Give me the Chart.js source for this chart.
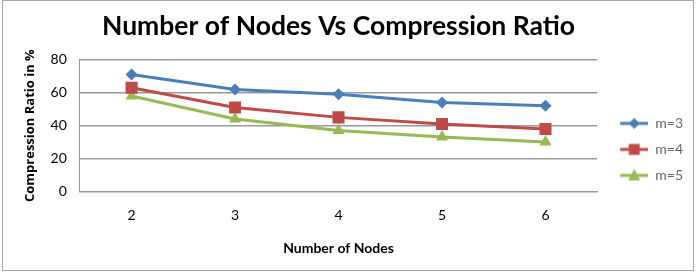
<!DOCTYPE html>
<html lang="en">
  <head>
    <meta charset="UTF-8" />
    <title>Number of Nodes Vs Compression Ratio</title>
    <script src="https://cdn.jsdelivr.net/npm/chart.js"></script>
    <style>
      body { margin: 0; background: #fff; }
      #wrap { width: 697px; height: 273px; }
    </style>
  </head>
  <body>
    <div id="wrap"><canvas id="myChart" width="697" height="273"></canvas></div>

    <script>
      const nodes = ["2", "3", "4", "5", "6"];
      const m3 = [71, 62, 59, 54, 52];
      const m4 = [63, 51, 45, 41, 38];
      const m5 = [58, 44, 37, 33, 30];
      const yTicks = [0, 20, 40, 60, 80];

      const colors = { m3: "#4a7ebb", m4: "#be4b48", m5: "#98b954" };

      // legend symbol: short line with the marker in the middle
      // (left part left blank so the symbol sits a bit away from the plot)
      function legendIcon(color, style) {
        const c = document.createElement("canvas");
        c.width = 39;
        c.height = 14;
        const g = c.getContext("2d");
        g.strokeStyle = color;
        g.fillStyle = color;
        g.lineWidth = 3;
        g.beginPath();
        g.moveTo(11, 7);
        g.lineTo(39, 7);
        g.stroke();
        const cx = 25;
        g.beginPath();
        if (style === "rectRot") {
          g.moveTo(cx, 1.5); g.lineTo(cx + 5.5, 7); g.lineTo(cx, 12.5); g.lineTo(cx - 5.5, 7);
        } else if (style === "rect") {
          g.rect(cx - 5.5, 1.5, 11, 11);
        } else {
          g.moveTo(cx, 0.5); g.lineTo(cx + 6, 12); g.lineTo(cx - 6, 12);
        }
        g.closePath();
        g.fill();
        return c;
      }

      const frame = {
        id: "frame",
        beforeDraw(chart) {
          const ctx = chart.ctx;
          ctx.save();
          ctx.fillStyle = "#fff";
          ctx.fillRect(0, 0, chart.width, chart.height);
          ctx.strokeStyle = "#a6a6a6";
          ctx.lineWidth = 1;
          ctx.strokeRect(2.5, 0.5, chart.width - 6, chart.height - 3);
          ctx.restore();
        },
      };

      const series = [
        { label: "m=3", data: m3, color: colors.m3, style: "rectRot", r: 6 },
        { label: "m=4", data: m4, color: colors.m4, style: "rect", r: 8.5 },
        { label: "m=5", data: m5, color: colors.m5, style: "triangle", r: 7 },
      ];

      const config = {
        type: "line",
        data: {
          labels: nodes,
          datasets: series.map((s) => ({
            label: s.label,
            data: s.data,
            borderColor: s.color,
            backgroundColor: s.color,
            borderWidth: 3,
            pointStyle: s.style,
            pointRadius: s.r,
            pointHoverRadius: s.r,
            pointBorderWidth: 0,
            tension: 0,
          })),
        },
        options: {
          responsive: false,
          animation: false,
          layout: { padding: { left: 18, right: 4, top: 0, bottom: 16 } },
          plugins: {
            title: {
              display: true,
              fullSize: false,
              text: "Number of Nodes Vs Compression Ratio",
              color: "#000",
              font: { family: "Lato", size: 26.5, weight: "bold" },
              padding: { top: 11, bottom: 17 },
            },
            legend: {
              position: "right",
              title: {
                display: true,
                text: " ",
                font: { family: "Lato", size: 14 },
                padding: { top: 12, bottom: 13 },
              },
              labels: {
                usePointStyle: true,
                pointStyleWidth: 39,
                boxHeight: 14,
                color: "#000",
                font: { family: "Lato", size: 14 },
                padding: 12,
                generateLabels: (chart) =>
                  series.map((s, i) => ({
                    text: s.label,
                    pointStyle: legendIcon(s.color, s.style),
                    fillStyle: s.color,
                    strokeStyle: s.color,
                    lineWidth: 0,
                    datasetIndex: i,
                  })),
              },
            },
            tooltip: { enabled: false },
          },
          scales: {
            x: {
              offset: true,
              grid: { display: false, drawTicks: false },
              border: { color: "#999" },
              ticks: { color: "#000", padding: 16, font: { family: "Lato", size: 14 } },
              title: {
                display: true,
                text: "Number of Nodes",
                color: "#000",
                font: { family: "Lato", size: 14, weight: "bold" },
                padding: { top: 0, bottom: 0 },
              },
            },
            y: {
              min: 0,
              max: 80,
              afterBuildTicks: (axis) => {
                axis.ticks = yTicks.map((v) => ({ value: v }));
              },
              grid: { color: "#999", lineWidth: 1.5, drawTicks: false },
              border: { color: "#999" },
              ticks: { color: "#000", padding: 13, font: { family: "Lato", size: 14 } },
              title: {
                display: true,
                text: "Compression Ratio in %",
                color: "#000",
                font: { family: "Open Sans", size: 13, weight: "bold" },
                padding: { top: 4, bottom: 0 },
              },
            },
          },
        },
        plugins: [frame],
      };

      new Chart(document.getElementById("myChart"), config);
    </script>
  </body>
</html>
